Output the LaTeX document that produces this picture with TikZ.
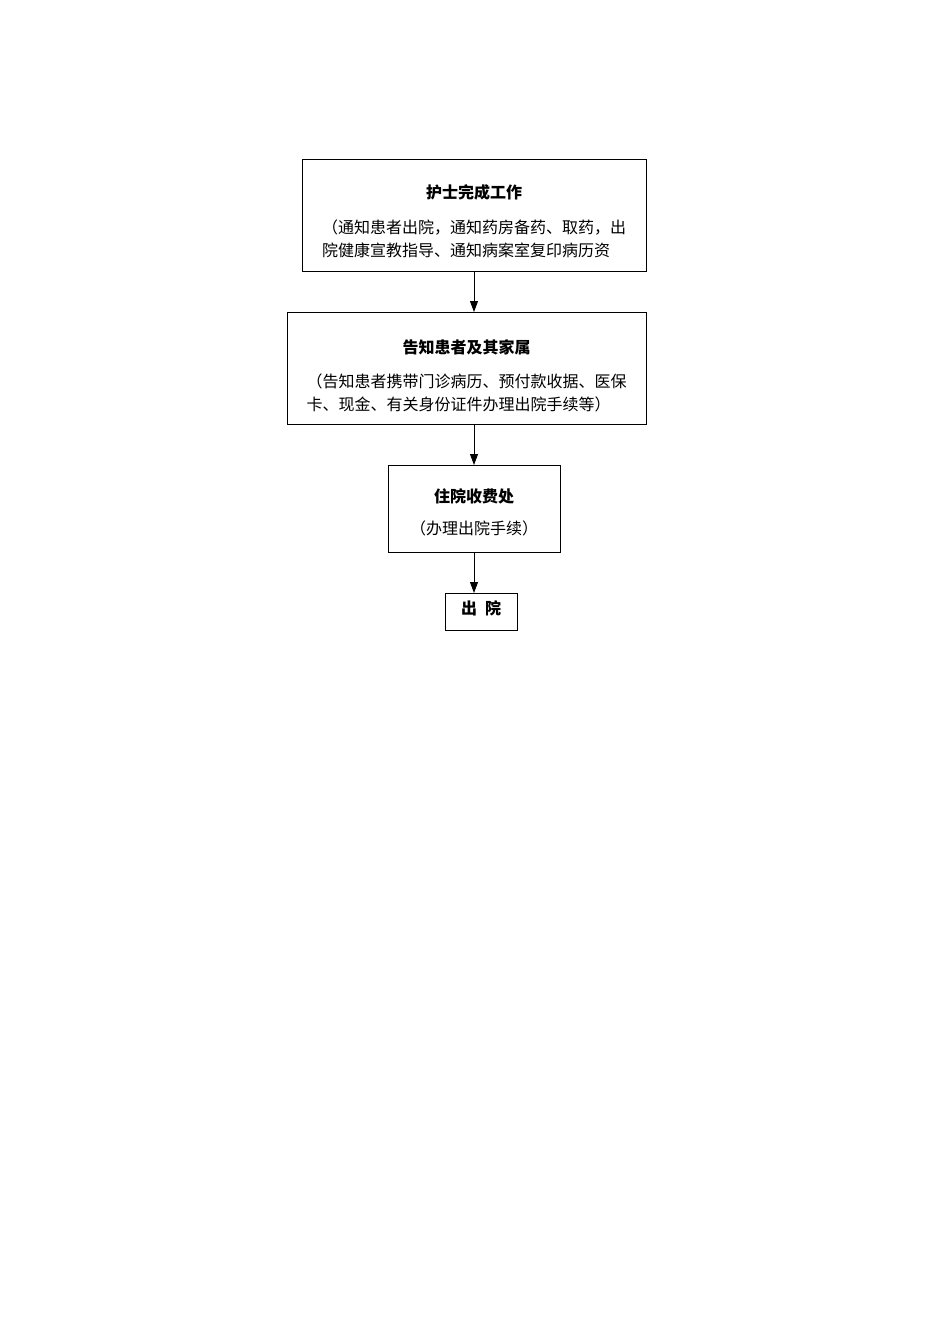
\documentclass[tikz,border=0pt]{standalone}
\usepackage{fontspec}
\setmainfont{Noto Sans CJK SC}
\usetikzlibrary{positioning, arrows.meta}

\begin{document}
\begin{tikzpicture}[x=1pt, y=1pt, node distance=40pt,
  box/.style={draw, line width=1pt, align=center, inner sep=0pt,
    font=\fontsize{16}{23}\selectfont},
  flow/.style={-{Triangle[length=11pt, width=8pt]}, line width=0.8pt}]
  \useasboundingbox (0,0) rectangle (950,-1344);

  \node[box, minimum width=344pt, minimum height=112pt] at (474,-215) (nurse)
  {\rule{0pt}{32pt}\textbf{护士完成工作}\\[16pt]
   \begin{tabular}{@{}l@{}}（通知患者出院，通知药房备药、取药，出\\院健康宣教指导、通知病案室复印病历资\end{tabular}};
  \node[box, minimum width=359pt, minimum height=112pt,
        below=40.5pt of nurse.south east, anchor=north east] (family)
  {\rule{0pt}{34pt}\textbf{告知患者及其家属}\\[16pt]
   \begin{tabular}{@{}l@{}}（告知患者携带门诊病历、预付款收据、医保\\卡、现金、有关身份证件办理出院手续等）\end{tabular}};
  \node[box, minimum width=172pt, minimum height=87pt,
        below=of family.south, xshift=7.5pt] (cashier)
  {\rule{0pt}{21pt}\textbf{住院收费处}\\[9pt]（办理出院手续）};
  \node[box, minimum width=72pt, minimum height=37pt,
        below=of cashier, xshift=7pt] (leave)
  {\rule[-8pt]{0pt}{1pt}\textbf{出\hspace{8pt}院}};

  \draw[flow] (nurse.south) -- (nurse.south |- family.north);
  \draw[flow] (cashier.north |- family.south) -- (cashier.north);
  \draw[flow] (cashier.south) -- (cashier.south |- leave.north);
\end{tikzpicture}
\end{document}
